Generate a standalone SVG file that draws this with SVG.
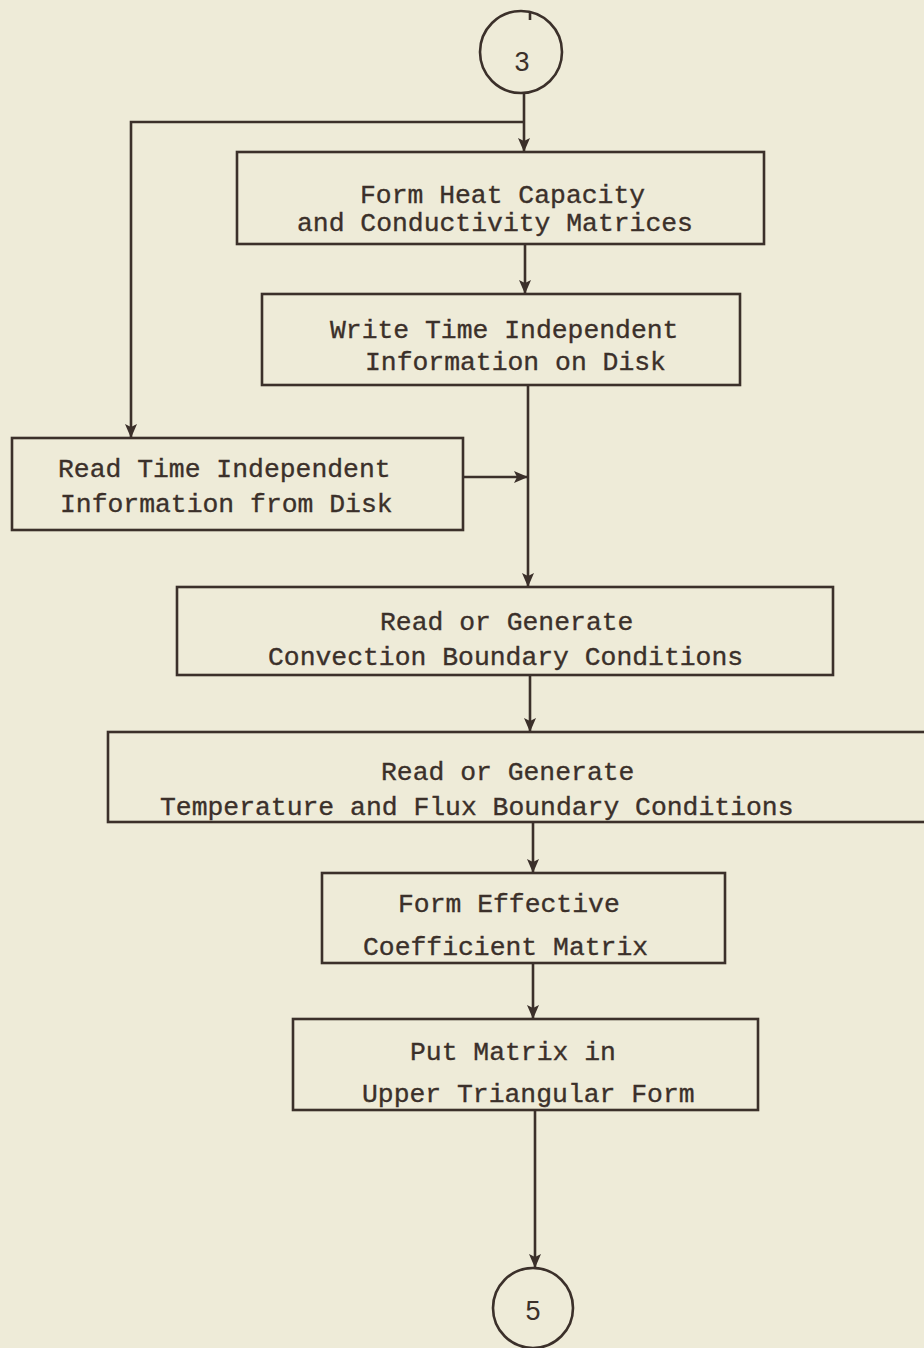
<svg xmlns="http://www.w3.org/2000/svg" width="924" height="1348" viewBox="0 0 924 1348">
<style>
.bg{fill:#eeebd8}
.box{fill:none;stroke:#3b302a;stroke-width:2.6}
.ln{fill:none;stroke:#3b302a;stroke-width:2.6}
.t{font-family:"Liberation Mono","DejaVu Sans Mono",monospace;font-size:26.4px;fill:#3b302a;stroke:#3b302a;stroke-width:0.35}
.d{font-family:"Liberation Sans",Arial,sans-serif;font-size:27px;fill:#3b302a;text-anchor:middle}
</style>
<defs>
<marker id="ah" markerUnits="userSpaceOnUse" markerWidth="14" markerHeight="16" viewBox="0 0 14 16" refX="14" refY="8" orient="auto">
<path d="M0,2 L14,8 L0,14 L3,8 Z" fill="#3b302a"/>
</marker>
</defs>
<rect class="bg" x="0" y="0" width="924" height="1348"/>

<g id="connectors">
<line class="ln" x1="524" y1="93" x2="524" y2="152" marker-end="url(#ah)"/>
<polyline class="ln" points="524,122 131,122 131,438" marker-end="url(#ah)"/>
<line class="ln" x1="525" y1="244" x2="525" y2="294" marker-end="url(#ah)"/>
<line class="ln" x1="528" y1="385" x2="528" y2="587" marker-end="url(#ah)"/>
<line class="ln" x1="463" y1="477" x2="528" y2="477" marker-end="url(#ah)"/>
<line class="ln" x1="530" y1="675" x2="530" y2="732" marker-end="url(#ah)"/>
<line class="ln" x1="533" y1="822" x2="533" y2="873" marker-end="url(#ah)"/>
<line class="ln" x1="533" y1="963" x2="533" y2="1019" marker-end="url(#ah)"/>
<line class="ln" x1="535" y1="1110" x2="535" y2="1268" marker-end="url(#ah)"/>
</g>

<g id="c3">
<circle class="box" cx="521" cy="52" r="41"/>
<line class="ln" x1="530" y1="12" x2="530" y2="20"/>
<text class="d" x="522" y="71">3</text>
</g>

<g id="n1">
<rect class="box" x="237" y="152" width="527" height="92"/>
<text class="t" x="360" y="203">Form Heat Capacity</text>
<text class="t" x="297" y="231">and Conductivity Matrices</text>
</g>

<g id="n2">
<rect class="box" x="262" y="294" width="478" height="91"/>
<text class="t" x="330" y="338">Write Time Independent</text>
<text class="t" x="365" y="370">Information on Disk</text>
</g>

<g id="n3">
<rect class="box" x="12" y="438" width="451" height="92"/>
<text class="t" x="58" y="477">Read Time Independent</text>
<text class="t" x="60" y="512">Information from Disk</text>
</g>

<g id="n4">
<rect class="box" x="177" y="587" width="656" height="88"/>
<text class="t" x="380" y="630">Read or Generate</text>
<text class="t" x="268" y="665">Convection Boundary Conditions</text>
</g>

<g id="n5">
<rect class="box" x="108" y="732" width="840" height="90"/>
<text class="t" x="381" y="780">Read or Generate</text>
<text class="t" x="160" y="815">Temperature and Flux Boundary Conditions</text>
</g>

<g id="n6">
<rect class="box" x="322" y="873" width="403" height="90"/>
<text class="t" x="398" y="912">Form Effective</text>
<text class="t" x="363" y="955">Coefficient Matrix</text>
</g>

<g id="n7">
<rect class="box" x="293" y="1019" width="465" height="91"/>
<text class="t" x="410" y="1060">Put Matrix in</text>
<text class="t" x="362" y="1102">Upper Triangular Form</text>
</g>

<g id="c5">
<circle class="box" cx="533" cy="1308" r="40"/>
<text class="d" x="533" y="1320">5</text>
</g>
</svg>
